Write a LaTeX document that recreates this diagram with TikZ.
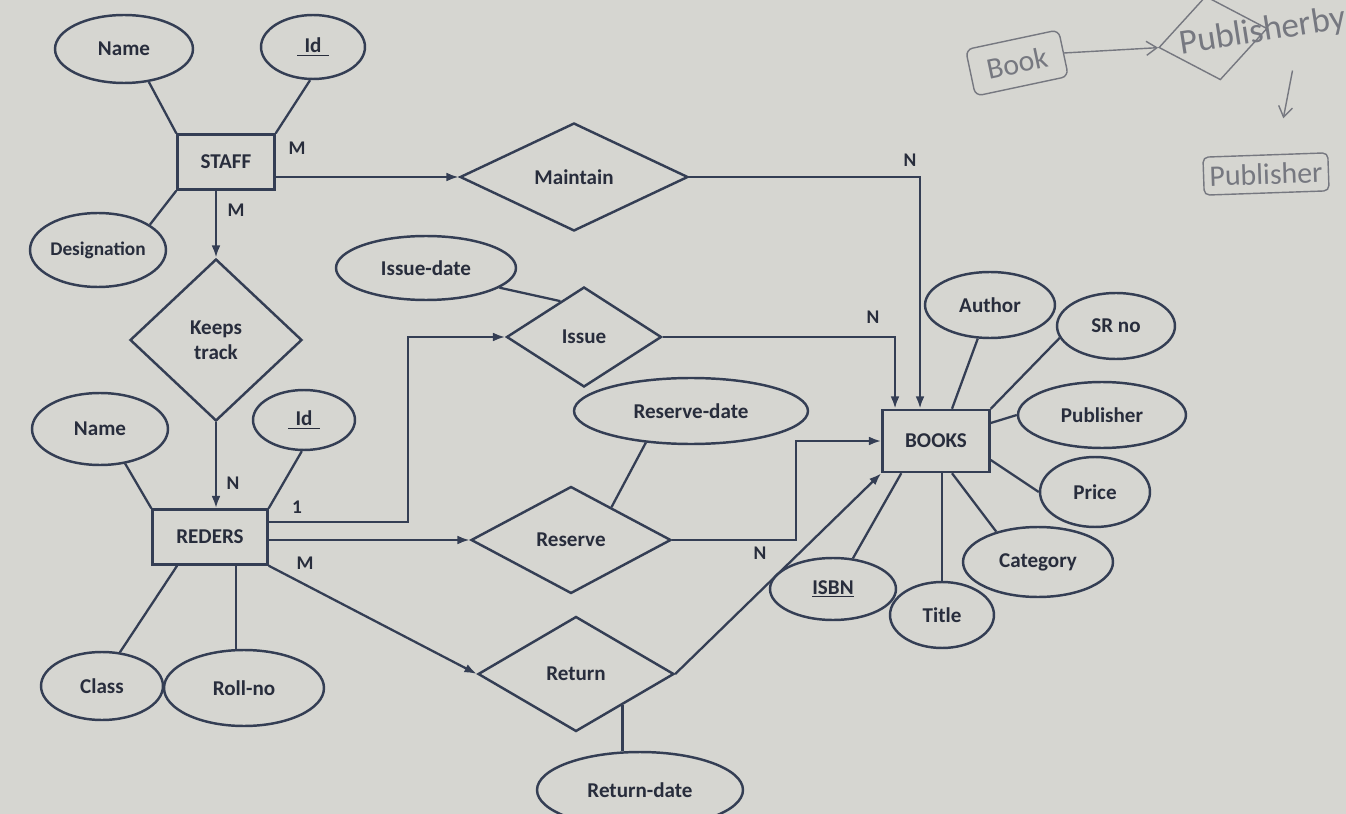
\documentclass[tikz,border=0pt]{standalone}
\usepackage{fontspec}
\setmainfont{Carlito}
\usetikzlibrary{shapes.geometric,arrows.meta,calc}
\definecolor{paper}{RGB}{214,214,209}
\definecolor{ink}{RGB}{52,62,84}
\definecolor{txt}{RGB}{40,45,60}
\definecolor{pencil}{RGB}{118,120,128}
\begin{document}
\begin{tikzpicture}[x=0.02cm,y=-0.02cm,
  every node/.style={font=\fontsize{12}{14}\selectfont\bfseries, text=txt},
  attr/.style={ellipse, draw=ink, line width=1.4pt, inner sep=0pt},
  ent/.style={rectangle, draw=ink, line width=1.4pt, inner sep=0pt},
  rel/.style={diamond, draw=ink, line width=1.4pt, inner sep=0pt, shape aspect=2},
  ln/.style={draw=ink, line width=1.3pt},
  arr/.style={ln, -{Latex[length=7pt,width=5pt]}},
  card/.style={font=\fontsize{11}{12}\selectfont\bfseries},
  hand/.style={font=\fontsize{17}{19}\selectfont, text=pencil},
  handline/.style={draw=pencil, line width=0.8pt}]
\fill[paper] (0,0) rectangle (1346,814);
\useasboundingbox (0,0) rectangle (1346,814);

% ---- STAFF
\node[attr, minimum width=2.76cm, minimum height=1.36cm] (sname) at (124,49) {Name};
\node[attr, minimum width=2.08cm, minimum height=1.28cm] (sid) at (313,47) {\underline{\hspace{0.35em}Id\hspace{0.35em}}};
\node[ent, minimum width=1.94cm, minimum height=1.1cm] (staff) at (226,162) {STAFF};
\node[attr, minimum width=2.72cm, minimum height=1.48cm, font=\fontsize{11}{13}\selectfont\bfseries] (desig) at (98,250) {Designation};
\node[rel, minimum width=4.56cm, minimum height=2.16cm] (maintain) at (574,177) {Maintain};
\node[rel, minimum width=3.44cm, minimum height=3.24cm, shape aspect=1, align=center] (keeps) at (216,340) {Keeps\\track};

% ---- READERS
\node[attr, minimum width=2.72cm, minimum height=1.44cm] (rname) at (100,429) {Name};
\node[attr, minimum width=2.04cm, minimum height=1.2cm] (rid) at (304,420) {\underline{\hspace{0.35em}Id\hspace{0.35em}}};
\node[ent, minimum width=2.3cm, minimum height=1.1cm] (reders) at (210,537) {REDERS};
\node[attr, minimum width=2.44cm, minimum height=1.36cm] (class) at (102,686) {Class};
\node[attr, minimum width=3.2cm, minimum height=1.52cm] (roll) at (244,688) {Roll-no};

% ---- relations middle
\node[attr, minimum width=3.6cm, minimum height=1.28cm] (idate) at (426,268) {Issue-date};
\node[rel, minimum width=3.1cm, minimum height=2.0cm] (issue) at (584,337) {Issue};
\node[attr, minimum width=4.68cm, minimum height=1.32cm] (rdate) at (691,411) {Reserve-date};
\node[rel, minimum width=4.0cm, minimum height=2.14cm] (reserve) at (571,540) {Reserve};
\node[rel, minimum width=3.92cm, minimum height=2.3cm] (ret) at (576,674) {Return};
\node[attr, minimum width=4.12cm, minimum height=1.52cm] (retdate) at (640,790) {Return-date};

% ---- BOOKS
\node[ent, minimum width=2.14cm, minimum height=1.24cm] (books) at (936,441) {BOOKS};
\node[attr, minimum width=2.6cm, minimum height=1.32cm] (author) at (990,305) {Author};
\node[attr, minimum width=2.36cm, minimum height=1.32cm] (srno) at (1116,326) {SR no};
\node[attr, minimum width=3.36cm, minimum height=1.32cm] (publisher) at (1102,415) {Publisher};
\node[attr, minimum width=2.2cm, minimum height=1.4cm] (price) at (1095,492) {Price};
\node[attr, minimum width=3.0cm, minimum height=1.4cm] (category) at (1038,562) {Category};
\node[attr, minimum width=2.08cm, minimum height=1.32cm] (title) at (942,615) {Title};
\node[attr, minimum width=2.52cm, minimum height=1.24cm] (isbn) at (833,589) {\underline{ISBN}};

% ---- attribute links
\draw[ln] (sname.-53) -- (staff.north west);
\draw[ln] (sid.-95) -- (staff.north east);
\draw[ln] (desig.26) -- (staff.south west);
\draw[ln] (rname.-54) -- (reders.north west);
\draw[ln] (rid.-94) -- (reders.north east);
\coordinate (rc) at ($(reders.south west)!0.22!(reders.south east)$);
\coordinate (rr) at ($(reders.south west)!0.72!(reders.south east)$);
\draw[ln] (rc) -- (class.62);
\draw[ln] (rr) -- (rr |- roll.north);
\draw[ln] (idate.-15) -- ($(issue.west)!0.7!(issue.north)$);
\draw[ln] (rdate.-145) -- ($(reserve.north)!0.4!(reserve.east)$);
\coordinate (rt) at ($(ret.south)!0.47!(ret.east)$);
\draw[ln] (rt) -- (rt |- retdate.north);
\draw[ln] (author.-110) -- ($(books.north)+(16,0)$);
\draw[ln] (srno.-168) -- (books.north east);
\draw[ln] ($(books.east)+(0,-18)$) -- (publisher.west);
\draw[ln] ($(books.east)+(0,19)$) -- (price.west);
\draw[ln] ($(books.south)+(16,0)$) -- (category.144);
\draw[ln] (books.south -| title.north) -- (title.north);
\draw[ln] ($(books.south west)+(20,0)$) -- (isbn.57);

% ---- relationship links
\draw[arr] (staff.east |- maintain.west) -- (maintain.west);
\draw[arr] (maintain.east) -| ($(books.north)+(-16,0)$);
\draw[arr] (staff.south -| keeps.north) -- (keeps.north);
\draw[arr] (keeps.south) -- (keeps.south |- reders.north);
\draw[arr] ($(reders.east)+(0,-15)$) -| ($(issue.west)+(-97,0)$) -- (issue.west);
\draw[arr] (issue.east) -| ($(books.north)+(-41,0)$);
\draw[arr] (reders.east |- reserve.west) -- (reserve.west);
\draw[arr] (reserve.east) -| ($(books.west)+(-85,0)$) -- (books.west);
\draw[arr] (reders.south east) -- (ret.west);
\draw[arr] (ret.east) -- (books.south west);

% ---- cardinalities
\node[card] (c1) at (297,148) {M};
\node[card] (c2) at (236,210) {M};
\node[card] (c3) at (910,160) {N};
\node[card] (c4) at (873,317) {N};
\node[card] (c5) at (233,483) {N};
\node[card] (c6) at (297,507) {1};
\node[card] (c7) at (305,563) {M};
\node[card] (c8) at (760,553) {N};

% ---- handwritten note
\node[hand, draw=pencil, line width=0.8pt, rounded corners=4pt, rotate=12, minimum width=1.9cm, minimum height=0.95cm] (hbook) at (1017,63) {Book};
\node[hand, diamond, draw=pencil, line width=0.8pt, rotate=10, minimum width=2.2cm, minimum height=1.7cm, inner sep=0pt] (hdia) at (1213,38) {};
\node[hand, anchor=west, rotate=9, font=\fontsize{20}{22}\selectfont] (htext) at (1174,46) {Publisherby};
\node[hand, draw=pencil, line width=0.8pt, rounded corners=3pt, rotate=2, minimum width=2.44cm, minimum height=0.76cm] (hpub) at (1266,174) {Publisher};
\draw[handline, -{Straight Barb[length=6pt,width=8pt]}] (hbook.east) -- (hdia.west);
\draw[handline, -{Straight Barb[length=6pt,width=8pt]}] ($(hdia.south)+(72,-10)$) -- ($(hpub.north)+(18,-36)$);
\end{tikzpicture}
\end{document}
